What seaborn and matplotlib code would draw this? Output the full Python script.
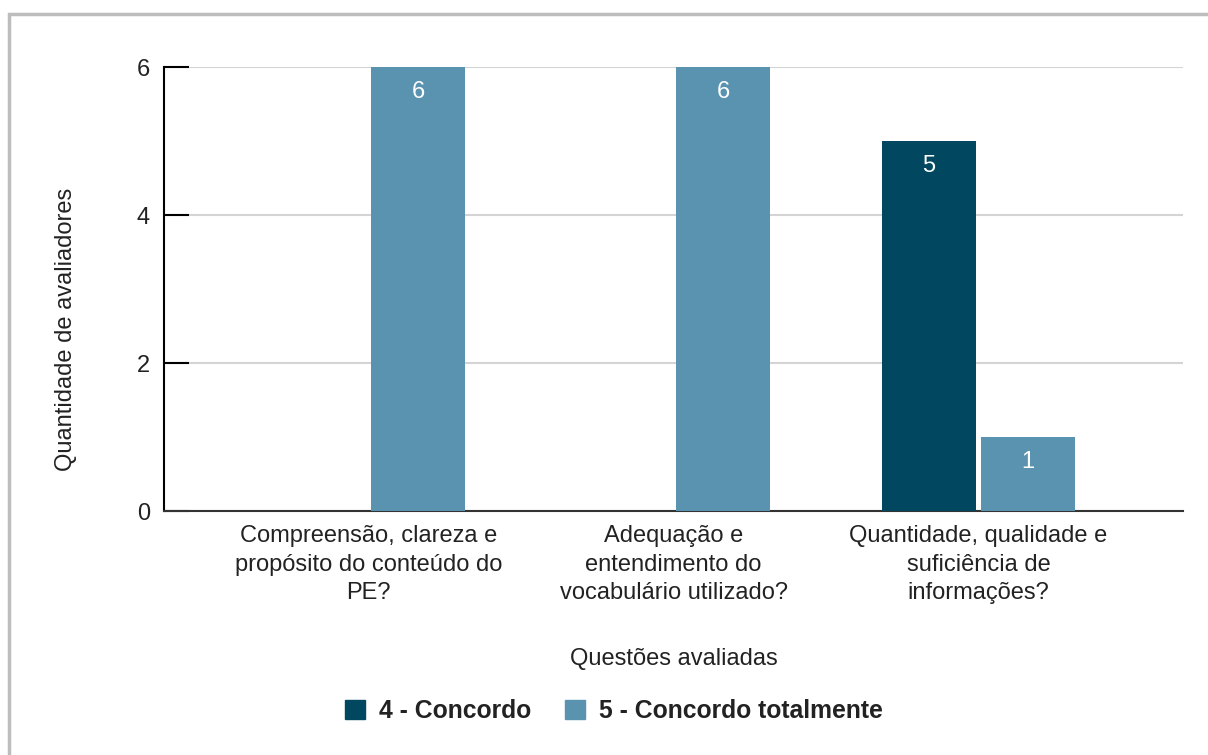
import numpy as np
import pandas as pd
import seaborn as sns
import matplotlib.pyplot as plt
from matplotlib.patches import Rectangle, Patch

questions = ['Compreensão, clareza e\npropósito do conteúdo do\nPE?',
             'Adequação e\nentendimento do\nvocabulário utilizado?',
             'Quantidade, qualidade e\nsuficiência de\ninformações?']
series = ['4 - Concordo', '5 - Concordo totalmente']
concordo = [0, 0, 5]
concordo_totalmente = [6, 6, 1]
colors = ['#01475f', '#5a93b0']

df = pd.DataFrame({
    'Questão': questions * 2,
    'Resposta': [series[0]] * 3 + [series[1]] * 3,
    'Quantidade': concordo + concordo_totalmente,
})

sns.set_style('white')
plt.rcParams['font.family'] = ['Liberation Sans', 'DejaVu Sans']

fig = plt.figure(figsize=(12.08, 7.55), dpi=100)
ax = fig.add_axes([164 / 1208, 1 - 511 / 755, (1183 - 164) / 1208, (511 - 67) / 755])

sns.barplot(data=df, x='Questão', y='Quantidade', hue='Resposta',
            palette=colors, width=0.65, gap=0.05, ax=ax, legend=False,
            saturation=1, linewidth=0, zorder=3)

for cont in ax.containers:
    labels = [f'{int(b.get_height())}' if b.get_height() > 0 else '' for b in cont]
    ax.bar_label(cont, labels=labels, label_type='edge', padding=-26,
                 color='white', fontsize=17)

ax.set_ylim(0, 6)
ax.set_xlim(-0.67, 2.67)
ax.set_yticks([0, 2, 4, 6])
ax.yaxis.grid(True, color='#d4d4d4', linewidth=1.5, zorder=0)
ax.set_axisbelow(True)
ax.tick_params(axis='y', left=True, direction='in', length=18, width=1.5, color='black',
               labelsize=17, pad=10, labelcolor='#222222')
ax.tick_params(axis='x', length=0, labelsize=17, pad=10, labelcolor='#222222')
for lbl in ax.get_xticklabels():
    lbl.set_linespacing(1.4)
for s in ['top', 'right']:
    ax.spines[s].set_visible(False)
ax.spines['left'].set_linewidth(1.5)
ax.spines['left'].set_color('black')
ax.spines['bottom'].set_linewidth(1.5)
ax.spines['bottom'].set_color('#333333')

ax.set_xlabel('Questões avaliadas', fontsize=17, labelpad=31, color='#222222')
ax.set_ylabel('Quantidade de avaliadores', fontsize=17, color='#222222')
ax.yaxis.set_label_coords(-0.085, 0.408)

handles = [Patch(facecolor=c, edgecolor=c) for c in colors]
leg = fig.legend(handles, series, loc='center', bbox_to_anchor=(614 / 1208, 1 - 711 / 755),
                 ncol=2, frameon=False, handlelength=0.8, handleheight=0.8,
                 columnspacing=1.4, handletextpad=0.55,
                 prop={'size': 17.8, 'weight': 'bold'})
for t in leg.get_texts():
    t.set_color('#222222')

fig.patches.append(Rectangle((9 / 1208, -0.05), 1.2, 1 - 14 / 755 + 0.05,
                             transform=fig.transFigure, fill=False,
                             edgecolor='#bdbdbd', linewidth=2.5))

fig.savefig('out.png', dpi=100)
